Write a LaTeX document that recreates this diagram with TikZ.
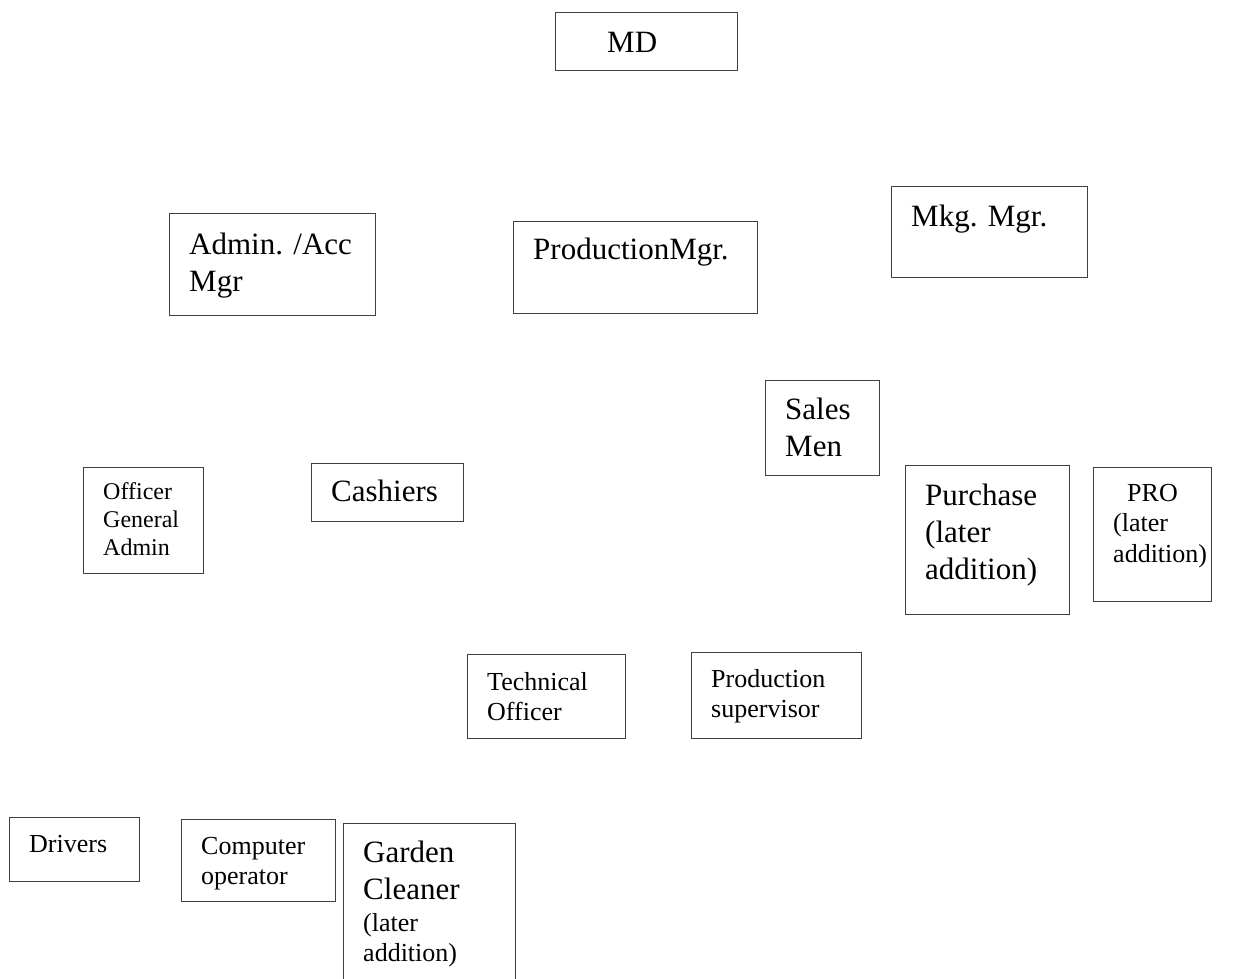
\documentclass[tikz,border=0pt]{standalone}
\usepackage{fontspec}
\setmainfont{Liberation Serif}
\begin{document}
\begin{tikzpicture}[x=1pt,y=-1pt,
    box/.style={draw=black!75, line width=1pt, anchor=north west, inner sep=0pt},
    big/.style={font=\fontsize{31}{37}\selectfont, align=left, anchor=north west, inner sep=0pt},
    mid/.style={font=\fontsize{26}{30.5}\selectfont, align=left, anchor=north west, inner sep=0pt},
    small/.style={font=\fontsize{24}{28}\selectfont, align=left, anchor=north west, inner sep=0pt}]
    \clip (0,0) rectangle (1241,978);
    % top
    \node [box, minimum width=182, minimum height=58] (md) at (555,12) {};
    \node [big] (mdT) at ([shift={(52,20)}]md.north west) {MD};
    % managers
    \node [box, minimum width=206, minimum height=102] (adm) at (169,213) {};
    \node [big] (admT) at ([shift={(20,20)}]adm.north west) {Admin. /Acc\\Mgr};
    \node [box, minimum width=244, minimum height=92] (prod) at (513,221) {};
    \node [big] (prodT) at ([shift={(20,17)}]prod.north west) {ProductionMgr.};
    \node [box, minimum width=196, minimum height=91] (mkg) at (891,186) {};
    \node [big] (mkgT) at ([shift={(20,19)}]mkg.north west) {Mkg. Mgr.};
    % middle row
    \node [box, minimum width=114, minimum height=95] (sales) at (765,380) {};
    \node [big] (salesT) at ([shift={(20,18)}]sales.north west) {Sales\\Men};
    \node [box, minimum width=120, minimum height=106] (off) at (83,467) {};
    \node [small] (offT) at ([shift={(20,15)}]off.north west) {Officer\\General\\Admin};
    \node [box, minimum width=152, minimum height=58] (cash) at (311,463) {};
    \node [big] (cashT) at ([shift={(20,17)}]cash.north west) {Cashiers};
    \node [box, minimum width=164, minimum height=149] (purch) at (905,465) {};
    \node [big] (purchT) at ([shift={(20,19)}]purch.north west) {Purchase\\(later\\addition)};
    \node [box, minimum width=118, minimum height=134] (pro) at (1093,467) {};
    \node [mid] (proT) at ([shift={(20,17)}]pro.north west) {\hspace*{14pt}PRO\\(later\\addition)};
    % production staff
    \node [box, minimum width=158, minimum height=84] (tech) at (467,654) {};
    \node [mid] (techT) at ([shift={(20,18)}]tech.north west) {Technical\\Officer};
    \node [box, minimum width=170, minimum height=86] (sup) at (691,652) {};
    \node [mid] (supT) at ([shift={(20,17)}]sup.north west) {Production\\supervisor};
    % bottom row
    \node [box, minimum width=130, minimum height=64] (drv) at (9,817) {};
    \node [mid] (drvT) at ([shift={(20,18)}]drv.north west) {Drivers};
    \node [box, minimum width=154, minimum height=82] (comp) at (181,819) {};
    \node [mid] (compT) at ([shift={(20,18)}]comp.north west) {Computer\\operator};
    \node [box, minimum width=172, minimum height=180] (gard) at (343,823) {};
    \node [big] (gardT) at ([shift={(20,18)}]gard.north west) {Garden\\Cleaner};
    \node [mid] (gardL) at ([shift={(20,90)}]gard.north west) {(later\\addition)};
  \end{tikzpicture}
\end{document}
